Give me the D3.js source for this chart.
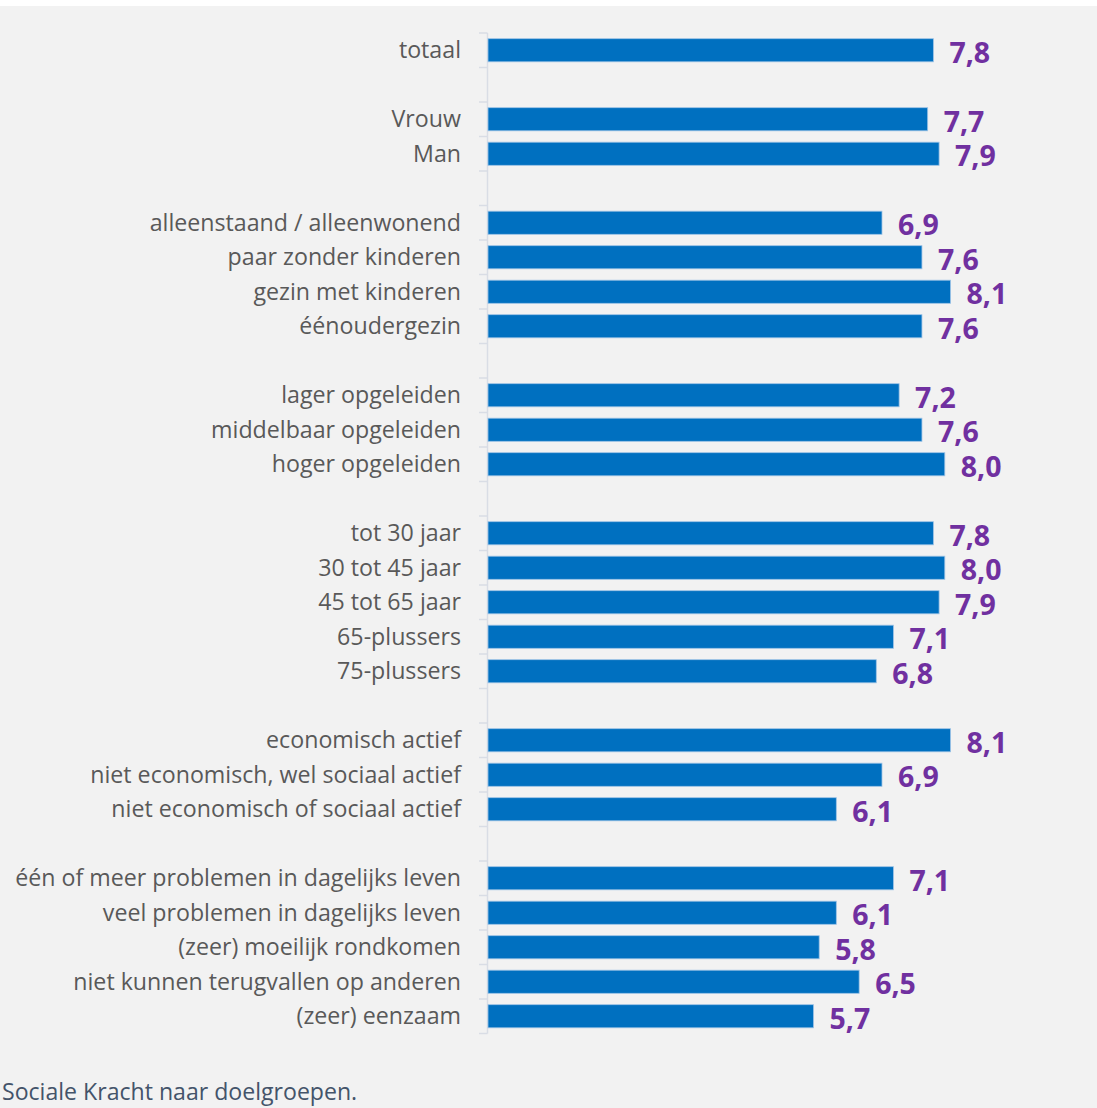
<!DOCTYPE html>
<html>
<head>
<meta charset="utf-8">
<script src="https://cdn.jsdelivr.net/npm/d3@7"></script>
<style>
  html, body { margin: 0; padding: 0; background: #ffffff; }
  svg { display: block; }
</style>
</head>
<body>
<svg id="chart" width="1097" height="1108"></svg>
<script>
// Categories in display order; empty strings are spacer rows between groups
const categories = [
  "totaal", "",
  "Vrouw", "Man", "",
  "alleenstaand / alleenwonend", "paar zonder kinderen", "gezin met kinderen", "éénoudergezin", "",
  "lager opgeleiden", "middelbaar opgeleiden", "hoger opgeleiden", "",
  "tot 30 jaar", "30 tot 45 jaar", "45 tot 65 jaar", "65-plussers", "75-plussers", "",
  "economisch actief", "niet economisch, wel sociaal actief", "niet economisch of sociaal actief", "",
  "één of meer problemen in dagelijks leven", "veel problemen in dagelijks leven",
  "(zeer) moeilijk rondkomen", "niet kunnen terugvallen op anderen", "(zeer) eenzaam"
];
const values = [
  7.8, null,
  7.7, 7.9, null,
  6.9, 7.6, 8.1, 7.6, null,
  7.2, 7.6, 8.0, null,
  7.8, 8.0, 7.9, 7.1, 6.8, null,
  8.1, 6.9, 6.1, null,
  7.1, 6.1, 5.8, 6.5, 5.7
];
const caption = "Sociale Kracht naar doelgroepen.";

const rows = categories.map((c, i) => ({ key: i, label: c, value: values[i] }));

const svg = d3.select("#chart");
const W = 1097, H = 1108;

svg.append("rect").attr("x", 0).attr("y", 0).attr("width", W).attr("height", H).attr("fill", "#ffffff");
svg.append("rect").attr("x", 0).attr("y", 6).attr("width", W).attr("height", H - 6).attr("fill", "#f2f2f2");

const x0 = 488;
const x = d3.scaleLinear().domain([0, 1]).range([x0, x0 + 57.1]);
const y = d3.scaleBand()
  .domain(rows.map(d => d.key))
  .range([33, 33 + 34.5 * rows.length])
  .paddingInner(0.33)
  .paddingOuter(0.165);

// Category axis: line with ticks at every band boundary
const axisG = svg.append("g");
const step = y.step();
const [r0, r1] = y.range();
axisG.append("line")
  .attr("x1", x0 - 0.5).attr("x2", x0 - 0.5)
  .attr("y1", r0).attr("y2", r1)
  .attr("stroke", "#d9dde5").attr("stroke-width", 1.5);
axisG.selectAll("line.tick")
  .data(d3.range(rows.length + 1))
  .join("line")
  .attr("class", "tick")
  .attr("x1", x0 - 9).attr("x2", x0 - 0.5)
  .attr("y1", i => r0 + i * step).attr("y2", i => r0 + i * step)
  .attr("stroke", "#d9dde5").attr("stroke-width", 1.5);

const data = rows.filter(d => d.value !== null);

svg.append("g").selectAll("rect")
  .data(data)
  .join("rect")
  .attr("x", x(0))
  .attr("y", d => y(d.key))
  .attr("width", d => x(d.value) - x(0))
  .attr("height", y.bandwidth())
  .attr("fill", "#0070c0")
  .attr("stroke", "#9dc3e6")
  .attr("stroke-width", 0.8);

svg.append("g").selectAll("text")
  .data(data)
  .join("text")
  .attr("x", 461)
  .attr("y", d => y(d.key) + y.bandwidth() / 2)
  .attr("dy", "0.35em")
  .attr("text-anchor", "end")
  .attr("font-family", "'Open Sans', sans-serif")
  .attr("font-size", 23.2)
  .attr("fill", "#595959")
  .text(d => d.label);

const fmt = v => d3.format(".1f")(v).replace(".", ",");
svg.append("g").selectAll("text")
  .data(data)
  .join("text")
  .attr("x", d => x(d.value) + 16)
  .attr("y", d => y(d.key) + y.bandwidth() / 2 + 2)
  .attr("dy", "0.36em")
  .attr("font-family", "'Open Sans', sans-serif")
  .attr("font-weight", "bold")
  .attr("font-size", 28.5)
  .attr("fill", "#7030a0")
  .text(d => fmt(d.value));

svg.append("text")
  .attr("x", 2)
  .attr("y", 1100)
  .attr("font-family", "'Open Sans', sans-serif")
  .attr("font-size", 23.1)
  .attr("fill", "#44546a")
  .text(caption);
</script>
</body>
</html>
